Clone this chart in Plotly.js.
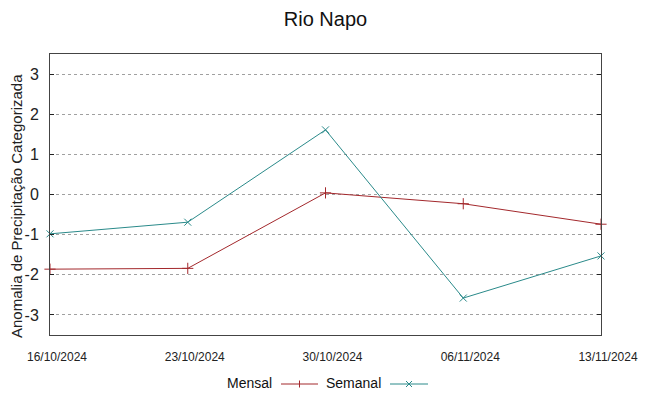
<!DOCTYPE html>
<html>
<head>
<meta charset="utf-8">
<script src="https://cdn.plot.ly/plotly-3.0.1.min.js"></script>
<style>html,body{margin:0;padding:0;background:#fff}#chart{width:649px;height:396px}</style>
</head>
<body>
<div id="chart"></div>
<script>
// Data
const dates = ['2024-10-16', '2024-10-23', '2024-10-30', '2024-11-06', '2024-11-13'];
const tickLabels = ['16/10/2024', '23/10/2024', '30/10/2024', '06/11/2024', '13/11/2024'];
const mensal = [-1.86, -1.84, 0.04, -0.23, -0.74];
const semanal = [-0.98, -0.69, 1.61, -2.58, -1.53];
const seriesNames = ['Mensal', 'Semanal'];
const yTicks = [-3, -2, -1, 0, 1, 2, 3];
const yTickLabels = ['-3', '-2', '-1', '0', '1', '2', '3'];

const RED = '#a3282c';
const TEAL = '#2a8a8a';
const SANS = '"Liberation Sans", Arial, sans-serif';

// plot area pixel geometry
const L = 50, R = 48, T = 54, B = 61, W = 649, H = 396;
const pw = W - L - R, ph = H - T - B;
const px = x => (x - L) / pw;
const py = y => (H - B - y) / ph;

const traces = [
  {x: dates, y: mensal, name: seriesNames[0], type: 'scatter', mode: 'lines+markers',
   line: {color: RED, width: 1}, marker: {symbol: 'cross-thin-open', size: 8, line: {color: RED, width: 1}},
   showlegend: false, cliponaxis: false},
  {x: dates, y: semanal, name: seriesNames[1], type: 'scatter', mode: 'lines+markers',
   line: {color: TEAL, width: 1}, marker: {symbol: 'x-thin-open', size: 7, line: {color: TEAL, width: 1}},
   showlegend: false, cliponaxis: false}
];

// legend built from shapes/annotations (text before symbol)
const legY = 384;
const shapes = [];
const annotations = [];
function legendItem(label, textRight, lineX0, lineX1, color, sym) {
  annotations.push({xref: 'paper', yref: 'paper', x: px(textRight), y: py(legY - 1), xanchor: 'right', yanchor: 'middle',
    text: label, showarrow: false, font: {family: SANS, size: 14, color: '#111'}});
  shapes.push({type: 'line', xref: 'paper', yref: 'paper', x0: px(lineX0), x1: px(lineX1), y0: py(legY), y1: py(legY),
    line: {color: color, width: 1}});
  const cx = (lineX0 + lineX1) / 2, s = 3.5;
  if (sym === '+') {
    shapes.push({type: 'line', xref: 'paper', yref: 'paper', x0: px(cx), x1: px(cx), y0: py(legY - s), y1: py(legY + s), line: {color: color, width: 1}});
  } else {
    shapes.push({type: 'line', xref: 'paper', yref: 'paper', x0: px(cx - 3), x1: px(cx + 3), y0: py(legY - 3), y1: py(legY + 3), line: {color: color, width: 1}});
    shapes.push({type: 'line', xref: 'paper', yref: 'paper', x0: px(cx - 3), x1: px(cx + 3), y0: py(legY + 3), y1: py(legY - 3), line: {color: color, width: 1}});
  }
}
legendItem(seriesNames[0], 274, 281, 318, RED, '+');
legendItem(seriesNames[1], 383, 390, 428, TEAL, 'x');

// y axis title as annotation
annotations.push({xref: 'paper', yref: 'paper', x: px(16), y: py(206), xanchor: 'center', yanchor: 'middle',
  text: 'Anomalia de Precipitação Categorizada', textangle: -90, showarrow: false,
  font: {family: SANS, size: 15, color: '#222'}});

const layout = {
  width: W, height: H,
  margin: {l: L, r: R, t: T, b: B, pad: 0},
  paper_bgcolor: '#fff', plot_bgcolor: '#fff',
  showlegend: false,
  title: {text: 'Rio Napo', x: 0.5, xanchor: 'center', xref: 'paper', y: 1 - 19 / H, yanchor: 'middle',
          font: {family: SANS, size: 20, color: '#111'}},
  xaxis: {
    type: 'date', range: [dates[0], dates[dates.length - 1]],
    tickmode: 'array', tickvals: dates, ticktext: tickLabels,
    showgrid: false, zeroline: false,
    showline: true, linecolor: '#444', linewidth: 1, mirror: true,
    ticks: '', ticklabelstandoff: 11, ticklabelshift: 7,
    tickfont: {family: SANS, size: 12, color: '#222'}
  },
  yaxis: {
    range: [-3.5, 3.5], tickmode: 'array', tickvals: yTicks, ticktext: yTickLabels,
    showgrid: true, gridcolor: '#a0a0a0', griddash: 'dot', gridwidth: 1,
    zeroline: false,
    showline: true, linecolor: '#444', linewidth: 1, mirror: 'ticks',
    ticks: 'inside', ticklen: 4, tickcolor: '#222', tickwidth: 1,
    ticklabelstandoff: 7,
    tickfont: {family: SANS, size: 16, color: '#222'}
  },
  shapes: shapes,
  annotations: annotations
};

Plotly.newPlot('chart', traces, layout, {displayModeBar: false, staticPlot: true});
</script>
</body>
</html>
